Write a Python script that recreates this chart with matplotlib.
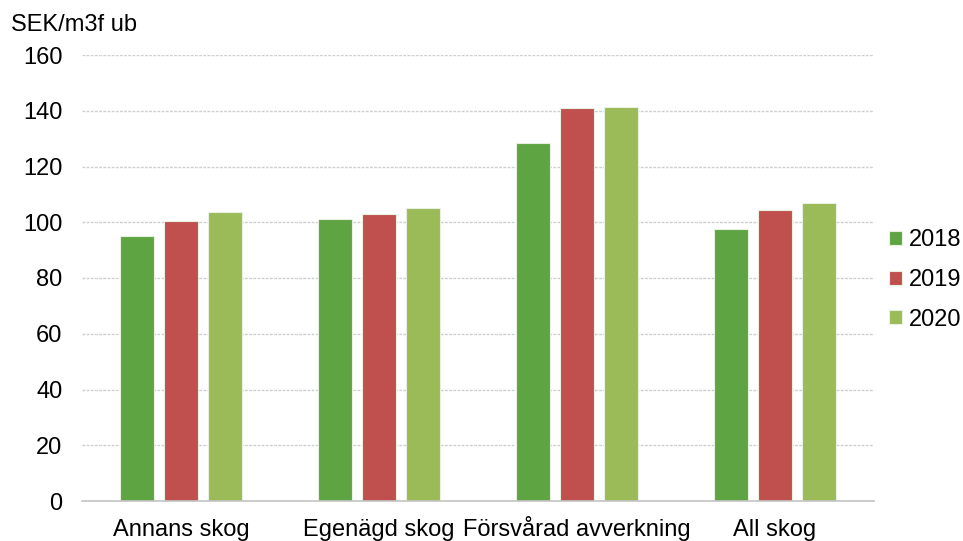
import matplotlib
matplotlib.use("Agg")
import matplotlib.pyplot as plt
import numpy as np

categories = ["Annans skog", "Egenägd skog", "Försvårad avverkning", "All skog"]
years = ["2018", "2019", "2020"]
v2018 = [95.0, 101.0, 128.6, 97.6]
v2019 = [100.6, 102.8, 140.9, 104.5]
v2020 = [103.8, 105.0, 141.4, 106.9]
yticks = [0, 20, 40, 60, 80, 100, 120, 140, 160]
ylabel = "SEK/m3f ub"

colors = ["#5EA443", "#C0504D", "#9BBB59"]

plt.rcParams['font.family'] = ['Liberation Sans', 'DejaVu Sans']
FS = 17

fig = plt.figure(figsize=(9.63, 5.41), dpi=100)
ax = fig.add_axes([82/963, 1-501/541, 792/963, 446/541])

x = np.arange(len(categories))
w = 34/198
step = 44/198
for i, (vals, yr) in enumerate(zip([v2018, v2019, v2020], years)):
    ax.bar(x + (i-1)*step, vals, width=w, color=colors[i], label=yr,
           edgecolor="#E8F0E0", linewidth=0.8, zorder=3)

ax.set_xlim(-0.5, 3.5)
ax.set_ylim(0, 160)
ax.set_yticks(yticks)
ax.set_xticks(x)
ax.set_xticklabels(categories, fontsize=FS)
for lbl in ax.get_xticklabels():
    lbl.set_verticalalignment('baseline')
ax.tick_params(axis='y', length=0, pad=14, labelsize=FS)
ax.tick_params(axis='x', length=0, pad=25.5)
ax.grid(axis='y', color="#CFCFCF", linewidth=1.0, linestyle=(0, (2, 1)), zorder=0)
for s in ["top", "right", "left"]:
    ax.spines[s].set_visible(False)
ax.spines["bottom"].set_color("#C4C4C4")
ax.spines["bottom"].set_linewidth(1.2)
ax.spines["bottom"].set_zorder(4)

fig.text(11/963, 1-25/541, ylabel, fontsize=FS, va='center', ha='left')

leg = ax.legend(loc='center left', bbox_to_anchor=(889/963, 1-280/541),
                bbox_transform=fig.transFigure, frameon=False, fontsize=FS,
                handlelength=0.55, handleheight=0.55, handletextpad=0.3,
                labelspacing=0.75, borderaxespad=0, borderpad=0)

fig.savefig("out.png", dpi=100)
